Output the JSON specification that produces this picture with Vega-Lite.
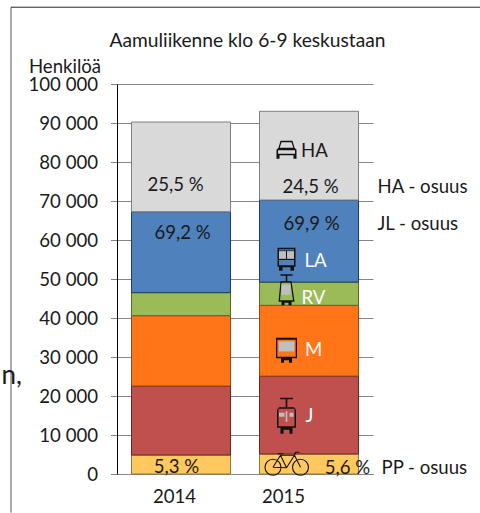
{
"$schema":"https://vega.github.io/schema/vega-lite/v6.json",
"autosize":{"type":"none"},
"padding":{"left":117,"top":84,"right":107,"bottom":39},
"width":256,"height":390,
"background":"white",
"config":{"view":{"stroke":null},"axis":{"labelOverlap":false,"labelFont":"Lato","labelFontSize":18.6,"labelColor":"#1a1a1a"},"text":{"font":"Lato","fontSize":18.6,"color":"#1a1a1a"}},
"datasets":{
"modes":[
{"year":"2014","mode":"PP","ord":1,"value":4870},
{"year":"2014","mode":"J","ord":2,"value":17690},
{"year":"2014","mode":"M","ord":3,"value":18040},
{"year":"2014","mode":"RV","ord":4,"value":5900},
{"year":"2014","mode":"LA","ord":5,"value":20750},
{"year":"2014","mode":"HA","ord":6,"value":23000},
{"year":"2015","mode":"PP","ord":1,"value":5130},
{"year":"2015","mode":"J","ord":2,"value":19970},
{"year":"2015","mode":"M","ord":3,"value":18150},
{"year":"2015","mode":"RV","ord":4,"value":5950},
{"year":"2015","mode":"LA","ord":5,"value":21050},
{"year":"2015","mode":"HA","ord":6,"value":22750}
],
"icons":[
{"year":"2015","icon":"HA","value":83150},
{"year":"2015","icon":"LA","value":55080},
{"year":"2015","icon":"RV","value":47250},
{"year":"2015","icon":"M","value":31740},
{"year":"2015","icon":"J","value":14950}
]
},
"resolve":{"scale":{"shape":"independent"},"axis":{"x":"independent","y":"independent"}},
"layer":[
{"data":{"name":"modes"},
 "mark":{"type":"bar","width":99,"strokeWidth":1},
 "encoding":{
  "x":{"field":"year","type":"nominal","scale":{"domain":["2014","2015"],"paddingInner":0,"paddingOuter":0},
   "axis":{"title":null,"labelAngle":0,"labelPadding":13,"ticks":false,"domainColor":"#868686","domainWidth":1,
    "labelOffset":{"condition":{"test":"datum.value==='2015'","value":-25.5},"value":-6.5}}},
  "y":{"field":"value","type":"quantitative","stack":"zero","scale":{"domain":[0,100000],"nice":false},
   "axis":{"title":"Henkilöä","titleFont":"Lato","titleFontSize":18.6,"titleFontWeight":"normal","titleColor":"#1a1a1a","titleAngle":0,"titleAlign":"center","titleBaseline":"alphabetic","titleX":-52.5,"titleY":-12,
    "values":[0,10000,20000,30000,40000,50000,60000,70000,80000,90000,100000],"labelOverlap":false,
    "labelExpr":"replace(format(datum.value,','),',',' ')","labelPadding":13,"tickSize":6.5,"tickColor":"#868686","domainColor":"#000000","grid":true,"gridColor":"#868686","gridOpacity":1}},
  "order":{"field":"ord","type":"ordinal"},
  "color":{"field":"mode","type":"nominal","legend":null,"scale":{"domain":["PP","J","M","RV","LA","HA"],"range":["#FFC95F","#C0504D","#FF7518","#9BBB59","#4F81BD","#D9D9D9"]}},
  "stroke":{"field":"mode","type":"nominal","legend":null,"scale":{"domain":["PP","J","M","RV","LA","HA"],"range":["#8a7a45","#5e2a28","#8a4a18","#56692f","#1f3d5e","#7f7f7f"]}}
 }},
{"data":{"values":[{"k":1}]},"mark":{"type":"rule","color":"#595959","xOffset":-170},
 "encoding":{"x":{"datum":"2014","axis":null},"y":{"datum":119690,"axis":null},"y2":{"datum":-9900}}},
{"data":{"values":[{"k":1}]},"mark":{"type":"rule","color":"#262626","xOffset":-170,"x2Offset":171},
 "encoding":{"x":{"datum":"2014","axis":null},"x2":{"datum":"2015"},"y":{"datum":119690,"axis":null}}},
{"data":{"name":"icons"},"mark":{"type":"point","filled":true,"size":400,"xOffset":-22.5,"opacity":1,"color":"#111111"},
 "encoding":{"x":{"field":"year","type":"nominal","axis":null},"y":{"field":"value","type":"quantitative","stack":null,"axis":null},
  "shape":{"field":"icon","type":"nominal","legend":null,"scale":{"domain":["HA","LA","RV","M","J"],"range":[
  "M-.6,-.9 L.6,-.9 L.8,-.2 L1,0 L1,.9 L.7,.9 L.7,.55 L-.7,.55 L-.7,.9 L-1,.9 L-1,0 L-.8,-.2 Z M-.5,-.75 L-.68,-.2 L.68,-.2 L.5,-.75 Z M-.85,.05 L-.85,.4 L.85,.4 L.85,.05 Z",
  "M-.9,-1.15 L.9,-1.15 L.9,.75 L.75,.75 L.75,1.15 L.4,1.15 L.4,.8 L-.4,.8 L-.4,1.15 L-.75,1.15 L-.75,.75 L-.9,.75 Z M-.75,-.8 L-.75,-.05 L-.05,-.05 L-.05,-.8 Z M.05,-.8 L.05,-.05 L.75,-.05 L.75,-.8 Z M-.75,-1 L-.75,-.88 L.75,-.88 L.75,-1 Z M-.75,.08 L-.75,.6 L.75,.6 L.75,.08 Z",
  "M-.6,-1.55 L.6,-1.55 L.6,-1.4 L.08,-1.4 L.08,-.85 L.5,-.85 L.8,1.2 L.5,1.2 L.5,1.55 L.2,1.55 L.2,1.3 L-.2,1.3 L-.2,1.55 L-.5,1.55 L-.5,1.2 L-.8,1.2 L-.6,-.85 L-.08,-.85 L-.08,-1.4 L-.6,-1.4 Z M-.5,-.72 L-.65,1.05 L.65,1.05 L.4,-.72 Z",
  "M-1.05,-1.25 L1.05,-1.25 L1.05,.8 L.55,.8 L.55,1.25 L.25,1.25 L.25,1 L-.25,1 L-.25,1.25 L-.55,1.25 L-.55,.8 L-1.05,.8 Z M-.92,-1.05 L-.92,.65 L.92,.65 L.92,-1.05 Z",
  "M-.65,-1.8 L.65,-1.8 L.65,-1.65 L.08,-1.65 L.08,-.85 L.75,-.85 L.95,-.6 L.95,1.2 L.6,1.2 L.6,1.8 L.3,1.8 L.3,1.4 L-.3,1.4 L-.3,1.8 L-.6,1.8 L-.6,1.2 L-.95,1.2 L-.95,-.6 L-.75,-.85 L-.08,-.85 L-.08,-1.65 L-.65,-1.65 Z M-.8,-.7 L-.8,1.05 L.8,1.05 L.8,-.7 Z"
  ]}}}},
{"data":{"name":"icons"},"mark":{"type":"point","filled":true,"size":400,"xOffset":-22.5,"opacity":1,"color":"#BFBFBF"},
 "encoding":{"x":{"field":"year","type":"nominal","axis":null},"y":{"field":"value","type":"quantitative","stack":null,"axis":null},
  "shape":{"field":"icon","type":"nominal","legend":null,"scale":{"domain":["HA","LA","RV","M","J"],"range":[
  "M0,0",
  "M-.75,-.8 L-.05,-.8 L-.05,-.05 L-.75,-.05 Z M.05,-.8 L.75,-.8 L.75,-.05 L.05,-.05 Z",
  "M-.5,-.5 L.4,-.5 L.4,.5 L-.5,.5 Z",
  "M-.78,-.88 L.78,-.88 L.78,.12 L-.78,.12 Z",
  "M-.75,-.3 L-.2,-.3 L-.2,.1 L-.75,.1 Z M-.08,-.45 L.08,-.45 L.08,.6 L-.08,.6 Z M.3,-.3 L.7,-.3 L.7,.1 L.3,.1 Z"
  ]}}}},
{"data":{"values":[{"year":"2015","value":2640}]},
 "mark":{"type":"point","filled":false,"size":400,"xOffset":-22.5,"opacity":1,"stroke":"#111111","strokeWidth":1.1,
  "shape":"M-2.15,.35 a.8,.8 0 1,0 1.6,0 a.8,.8 0 1,0 -1.6,0 M.6,.35 a.8,.8 0 1,0 1.6,0 a.8,.8 0 1,0 -1.6,0 M-1.35,.35 L-.6,-.85 L.8,-.85 L1.4,.35 M-1.35,.35 L0,.4 L.8,-.85 M-.6,-.85 L0,.4 M.8,-.85 L.9,-1.15 L1.3,-1.15 M-.9,-1 L-.3,-1"},
 "encoding":{"x":{"field":"year","type":"nominal","axis":null},"y":{"field":"value","type":"quantitative","stack":null,"axis":null}}},
{"data":{"values":[{"year":"2014","value":111100,"label":"Aamuliikenne klo 6-9 keskustaan"}]},"mark":{"type":"text","dx":66.5,"fontSize":19.2},"encoding":{"x":{"field":"year","axis":null},"y":{"field":"value","type":"quantitative","stack":null,"axis":null},"text":{"field":"label"}}},
{"data":{"values":[{"year":"2014","value":74180,"label":"25,5 %"}]},"mark":{"type":"text","dx":-5.5},"encoding":{"x":{"field":"year","axis":null},"y":{"field":"value","type":"quantitative","stack":null,"axis":null},"text":{"field":"label"}}},
{"data":{"values":[{"year":"2014","value":61870,"label":"69,2 %"}]},"mark":{"type":"text","dx":1.5},"encoding":{"x":{"field":"year","axis":null},"y":{"field":"value","type":"quantitative","stack":null,"axis":null},"text":{"field":"label"}}},
{"data":{"values":[{"year":"2014","value":1700,"label":"5,3 %"}]},"mark":{"type":"text","dx":-4.5},"encoding":{"x":{"field":"year","axis":null},"y":{"field":"value","type":"quantitative","stack":null,"axis":null},"text":{"field":"label"}}},
{"data":{"values":[{"year":"2015","value":73500,"label":"24,5 %"}]},"mark":{"type":"text","dx":1.5},"encoding":{"x":{"field":"year","axis":null},"y":{"field":"value","type":"quantitative","stack":null,"axis":null},"text":{"field":"label"}}},
{"data":{"values":[{"year":"2015","value":64000,"label":"69,9 %"}]},"mark":{"type":"text","dx":2.5},"encoding":{"x":{"field":"year","axis":null},"y":{"field":"value","type":"quantitative","stack":null,"axis":null},"text":{"field":"label"}}},
{"data":{"values":[{"year":"2015","value":82700,"label":"HA"}]},"mark":{"type":"text","dx":5.5},"encoding":{"x":{"field":"year","axis":null},"y":{"field":"value","type":"quantitative","stack":null,"axis":null},"text":{"field":"label"}}},
{"data":{"values":[{"year":"2015","value":54700,"label":"LA"}]},"mark":{"type":"text","dx":6.5,"color":"#ffffff"},"encoding":{"x":{"field":"year","axis":null},"y":{"field":"value","type":"quantitative","stack":null,"axis":null},"text":{"field":"label"}}},
{"data":{"values":[{"year":"2015","value":45200,"label":"RV"}]},"mark":{"type":"text","dx":4.5,"color":"#ffffff"},"encoding":{"x":{"field":"year","axis":null},"y":{"field":"value","type":"quantitative","stack":null,"axis":null},"text":{"field":"label"}}},
{"data":{"values":[{"year":"2015","value":31900,"label":"M"}]},"mark":{"type":"text","dx":4.5,"color":"#ffffff"},"encoding":{"x":{"field":"year","axis":null},"y":{"field":"value","type":"quantitative","stack":null,"axis":null},"text":{"field":"label"}}},
{"data":{"values":[{"year":"2015","value":14800,"label":"J"}]},"mark":{"type":"text","dx":0.5,"color":"#ffffff"},"encoding":{"x":{"field":"year","axis":null},"y":{"field":"value","type":"quantitative","stack":null,"axis":null},"text":{"field":"label"}}},
{"data":{"values":[{"year":"2015","value":1600,"label":"5,6 %"}]},"mark":{"type":"text","dx":38.5},"encoding":{"x":{"field":"year","axis":null},"y":{"field":"value","type":"quantitative","stack":null,"axis":null},"text":{"field":"label"}}},
{"data":{"values":[{"year":"2015","value":73500,"label":"HA - osuus"},{"year":"2015","value":64000,"label":"JL - osuus"}]},"mark":{"type":"text","align":"left","dx":68.5},"encoding":{"x":{"field":"year","axis":null},"y":{"field":"value","type":"quantitative","stack":null,"axis":null},"text":{"field":"label"}}},
{"data":{"values":[{"year":"2015","value":1600,"label":"PP - osuus"}]},"mark":{"type":"text","align":"left","dx":72.5},"encoding":{"x":{"field":"year","axis":null},"y":{"field":"value","type":"quantitative","stack":null,"axis":null},"text":{"field":"label"}}},
{"data":{"values":[{"year":"2014","value":25200,"label":"n,"}]},"mark":{"type":"text","align":"left","dx":-179.5,"fontSize":26},"encoding":{"x":{"field":"year","axis":null},"y":{"field":"value","type":"quantitative","stack":null,"axis":null},"text":{"field":"label"}}}
]
}
